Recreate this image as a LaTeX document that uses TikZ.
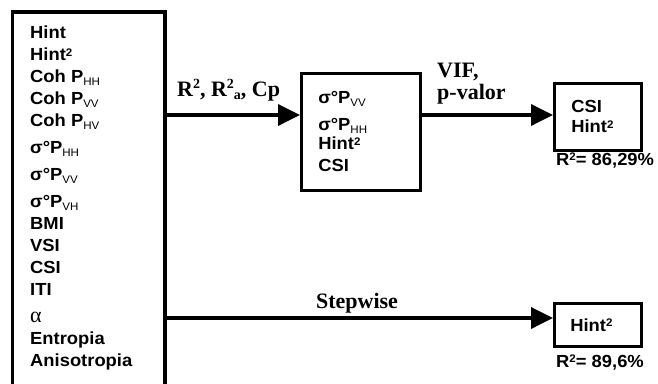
\documentclass[tikz,border=0pt]{standalone}
\usepackage{fontspec}
\setmainfont{Liberation Sans}[FakeStretch=1.05]
\newfontfamily\serif{Liberation Serif}
\usetikzlibrary{arrows.meta}
\newcommand\lo[1]{\raisebox{-0.3ex}{\fontsize{11}{11}\selectfont\mdseries #1}}
\newcommand\hi[1]{\raisebox{0.5ex}{\fontsize{11}{11}\selectfont #1}}
\newcommand\shi[1]{\raisebox{0.7ex}{\fontsize{14}{14}\selectfont #1}}
\newcommand\slo[1]{\raisebox{-0.35ex}{\fontsize{14}{14}\selectfont #1}}
\begin{document}
\begin{tikzpicture}[x=1pt,y=-1pt,
  frame/.style={line width=3.5pt},
  box/.style={draw,line width=2.6pt,align=left,inner ysep=0pt},
  arr/.style={line width=3.6pt,-{Triangle[length=22pt,width=21pt]}},
  sf/.style={font=\fontsize{17.5}{22}\selectfont\bfseries},
  lab/.style={font=\serif\fontsize{22}{22}\selectfont\bfseries,inner sep=0pt}]
\useasboundingbox (0,0) rectangle (658,383);
\draw[frame] (12.5,390) |- (165,12) -- (165,390);
\node[sf,anchor=north west,inner sep=0pt,align=left] (list) at (30,26)
  {Hint\\Hint\hi{2}\\Coh P\lo{HH}\\Coh P\lo{VV}\\Coh P\lo{HV}\\[5pt]σ°P\lo{HH}\\[5pt]σ°P\lo{VV}\\[5pt]σ°P\lo{VH}\\[0pt]BMI\\VSI\\CSI\\ITI\\[5pt]{\serif\mdseries\fontsize{22}{22}\selectfont α}\\Entropia\\Anisotropia};
\node[box,sf,minimum width=119pt,minimum height=117pt,text width=85pt,inner xsep=17pt,anchor=north west] (mid) at (300,72)
  {σ°P\lo{VV}\\[5pt]σ°P\lo{HH}\\[-3pt]Hint\hi{2}\\CSI};
\node[box,sf,minimum width=87pt,minimum height=67pt,text width=53pt,inner xsep=17pt,anchor=north west] (res1) at (553,82)
  {CSI\\[-2pt]Hint\hi{2}};
\node[box,sf,minimum width=87pt,minimum height=43pt,text width=55pt,inner xsep=16pt,anchor=north west] (res2) at (553,302)
  {Hint\hi{2}};
\coordinate (s1) at (165,115);
\coordinate (s2) at (165,318);
\draw[arr] (s1) -- (s1 -| mid.west);
\draw[arr] (mid.east |- s1) -- (s1 -| res1.west);
\draw[arr] (s2) -- (s2 -| res2.west);
\node[lab,anchor=base west] (l1) at (177,96) {R\shi{2}, R\shi{2}\slo{a}, Cp};
\node[lab,anchor=base west] (l2) at (437,77) {VIF,};
\node[lab,anchor=base west] (l3) at (437,99) {p-valor};
\node[lab,anchor=base] (l4) at (357,308) {Stepwise};
\node[sf,inner sep=0pt,anchor=base west] (r1) at (556,165) {R\hi{2}= 86,29\%};
\node[sf,inner sep=0pt,anchor=base west] (r2) at (556,367) {R\hi{2}= 89,6\%};
\end{tikzpicture}
\end{document}
